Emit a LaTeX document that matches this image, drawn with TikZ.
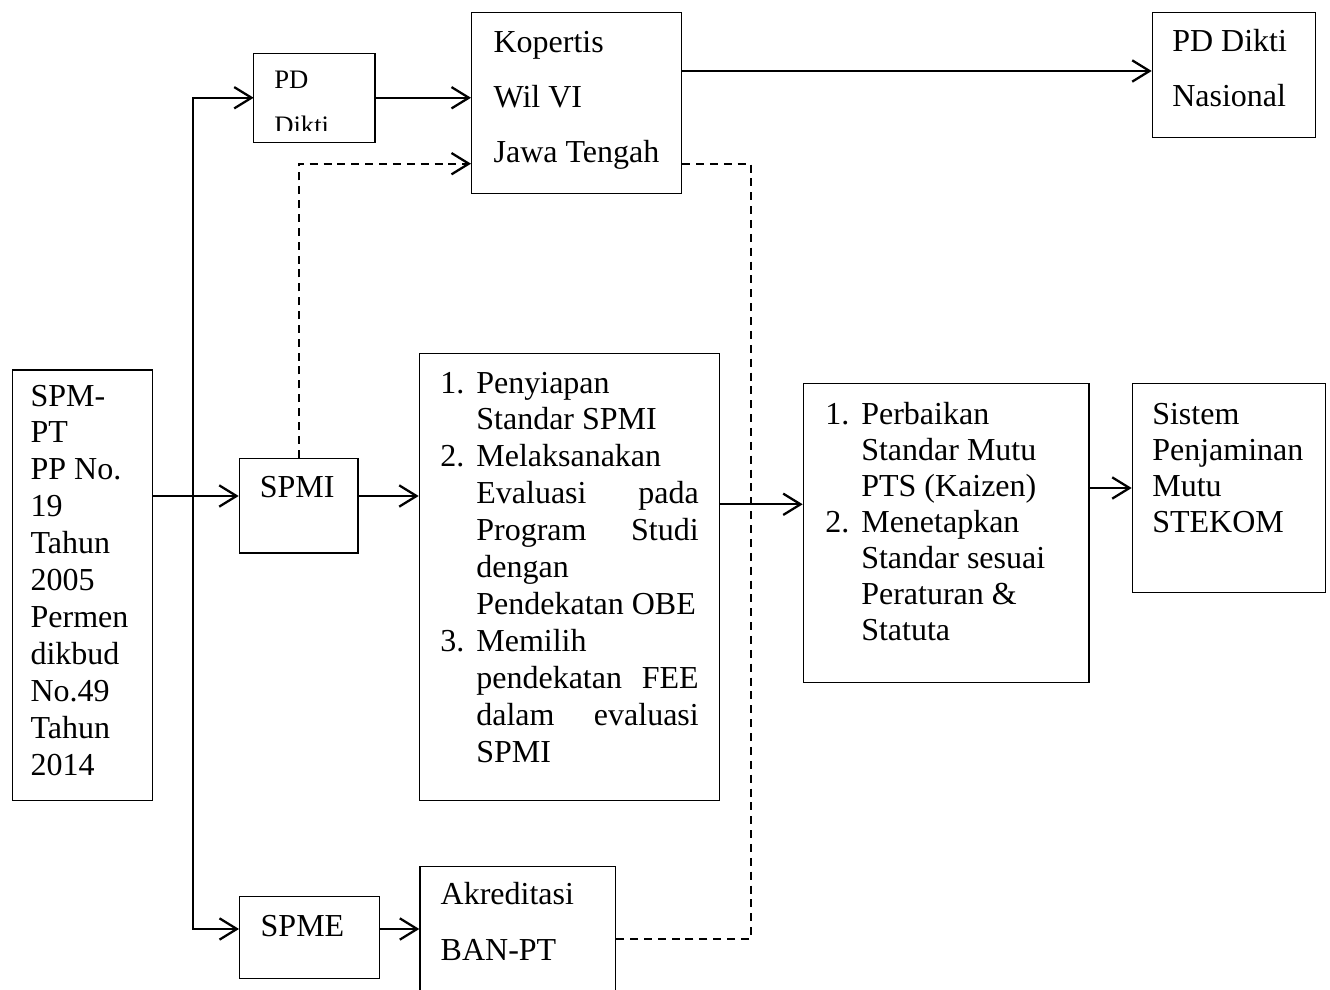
\documentclass[tikz,border=0pt]{standalone}
\usepackage{fontspec}
\setmainfont{Liberation Serif}
\usetikzlibrary{arrows.meta}

\newcommand{\nomor}[1]{\makebox[13.5pt][l]{#1}}
\newcommand{\geser}{\hspace*{13.5pt}}

\begin{document}
\begin{tikzpicture}[x=0.375pt, y=-0.375pt,
    kotak/.style={draw, line width=0.45pt, anchor=north west, inner ysep=0pt, inner xsep=7.8pt,
      font=\fontsize{12pt}{13.84pt}\selectfont},
    panah/.style={line width=0.85pt, -{Straight Barb[length=6.5pt,width=8pt]}},
    putus/.style={dash pattern=on 3pt off 2.2pt}]
  \useasboundingbox (0,0) rectangle (1330,990);

     % Kotak
  \node[kotak, inner xsep=6.75pt] (spm) at (12,369.5) {\parbox[t][161.4pt][t]{39pt}{\rule{0pt}{13.5pt}SPM-\\PT\\PP No.\\19\\Tahun\\2005\\Permen\\dikbud\\No.49\\Tahun\\2014}};

  \begin{scope}
    \clip (253.7,53.3) rectangle (373.7,131);
    \node[kotak, draw=none, inner xsep=7.5pt, font=\fontsize{10pt}{17pt}\selectfont] (pddikti) at (253.7,53.3) {\parbox[t][32.9pt][t]{30pt}{\rule{0pt}{13.1pt}PD\\Dikti}};
  \end{scope}
  \draw[line width=0.45pt] (pddikti.south west) rectangle (pddikti.north east);

  \node[kotak, inner xsep=8.25pt, font=\fontsize{12pt}{20.6pt}\selectfont] (kopertis) at (471,12) {\parbox[t][67.75pt][t]{62.25pt}{\rule{0pt}{15pt}Kopertis\\Wil VI\\Jawa Tengah}};
  \node[kotak, inner xsep=7.5pt, font=\fontsize{12pt}{20.5pt}\selectfont] (pdnas) at (1151.7,11.7) {\parbox[t][46.9pt][t]{46.25pt}{\rule{0pt}{14.75pt}PD Dikti\\Nasional}};

  \node[kotak, inner xsep=7.7pt] (spmi) at (238.7,457.7) {\parbox[t][35.5pt][t]{29.1pt}{\rule{0pt}{14.85pt}SPMI}};
  \node[kotak, inner xsep=7.9pt] (evaluasi) at (418.7,353) {\parbox[t][167.6pt][t]{96.9pt}{\rule{0pt}{14.8pt}\nomor{1.}Penyiapan\\\geser Standar SPMI\\\nomor{2.}Melaksanakan\\\geser Evaluasi\hfill pada\\\geser Program\hfill Studi\\\geser dengan\\\geser Pendekatan OBE\\\nomor{3.}Memilih\\\geser pendekatan\hfill FEE\\\geser dalam\hfill evaluasi\\\geser SPMI}};
  \node[kotak, inner xsep=8.25pt, font=\fontsize{12pt}{13.5pt}\selectfont] (perbaikan) at (802.7,382.7) {\parbox[t][112.35pt][t]{90.6pt}{\rule{0pt}{15.4pt}\nomor{1.}Perbaikan\\\geser Standar Mutu\\\geser PTS (Kaizen)\\\nomor{2.}Menetapkan\\\geser Standar sesuai\\\geser Peraturan \&\\\geser Statuta}};
  \node[kotak, inner xsep=7.5pt, font=\fontsize{12pt}{13.5pt}\selectfont] (sistem) at (1131.7,383) {\parbox[t][78.3pt][t]{57.5pt}{\rule{0pt}{15.4pt}Sistem\\Penjaminan\\Mutu\\STEKOM}};

  \node[kotak, inner xsep=7.9pt] (spme) at (239,896) {\parbox[t][30.6pt][t]{36.8pt}{\rule{0pt}{15pt}SPME}};
  \node[kotak, inner xsep=7.8pt, font=\fontsize{12pt}{20.9pt}\selectfont] (akreditasi) at (419.3,865.7) {\parbox[t][52pt][t]{57.8pt}{\rule{0pt}{14.5pt}Akreditasi\\BAN-PT}};

     % Titik bantu
  \coordinate (jalurSPMI) at (193.3,496);
  \coordinate (cabangBawah) at (193.3,929);
  \coordinate (jalurNasional) at (1000,71);
  \coordinate (jalurMutu) at (760,504.3);
  \coordinate (jalurPutus) at (296.7,163.7);
  \coordinate (belok) at (750.7,939.3);

     % Panah
  \draw[panah] (jalurSPMI) |- (pddikti.west);
  \draw[panah] (jalurSPMI) |- (cabangBawah -| spme.west);
  \draw[panah] (spm.east |- jalurSPMI) -- (spmi.west |- jalurSPMI);
  \draw[panah] (spmi.east |- jalurSPMI) -- (evaluasi.west |- jalurSPMI);
  \draw[panah] (pddikti.east) -- (kopertis.west |- pddikti.east);
  \draw[panah] (kopertis.east |- jalurNasional) -- (pdnas.west |- jalurNasional);
  \draw[panah] (evaluasi.east |- jalurMutu) -- (perbaikan.west |- jalurMutu);
  \draw[panah] (perbaikan.east |- sistem.west) -- (sistem.west);
  \draw[panah] (spme.east |- cabangBawah) -- (akreditasi.west |- cabangBawah);

     % Garis putus-putus
  \draw[panah, putus] (spmi.north) |- (kopertis.west |- jalurPutus);
  \draw[line width=0.75pt, putus] (kopertis.east |- jalurPutus) -| (belok) -- (akreditasi.east |- belok);

\end{tikzpicture}
\end{document}
